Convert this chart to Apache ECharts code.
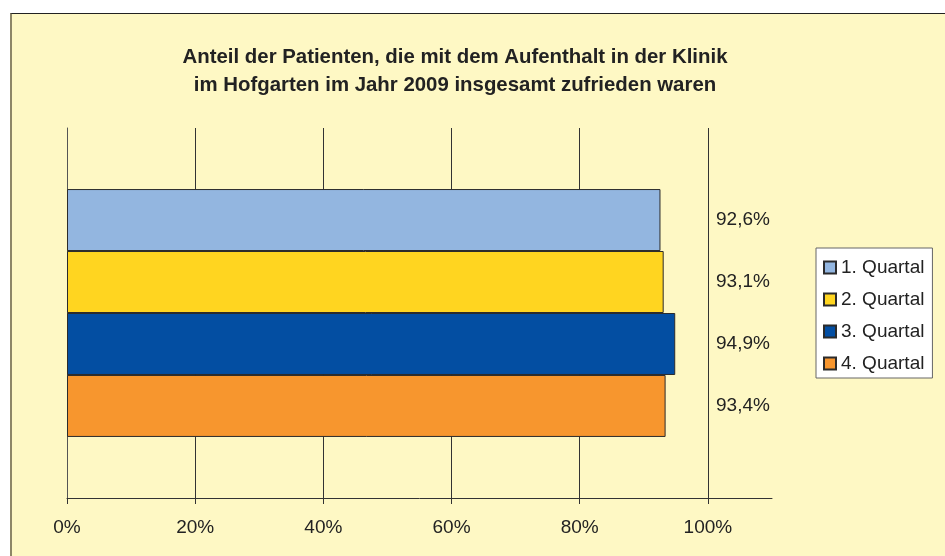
<!DOCTYPE html>
<html>
<head>
<meta charset="utf-8">
<script src="https://cdn.jsdelivr.net/npm/echarts@6/dist/echarts.min.js"></script>
<style>
  html, body { margin: 0; padding: 0; background: #ffffff; }
  .frame {
    position: absolute; left: 10px; top: 13px; width: 940px; height: 550px;
    background: #fef8c4;
    border-top: 1px solid #222;
    border-left: 2px solid #8d8668;
  }
  #main { position: absolute; left: 0; top: 0; width: 945px; height: 556px; }
</style>
</head>
<body>
<div class="frame"></div>
<div id="main"></div>
<script>
  var quartale = ['1. Quartal', '2. Quartal', '3. Quartal', '4. Quartal'];
  var werte = [92.6, 93.1, 94.9, 93.4];
  var farben = ['#93b6e0', '#ffd520', '#034ea2', '#f7962e'];
  var tickWerte = [0, 20, 40, 60, 80, 100];

  var chart = echarts.init(document.getElementById('main'));

  var series = [];
  for (var i = 0; i < quartale.length; i++) {
    series.push({
      name: quartale[i],
      type: 'bar',
      data: [werte[i]],
      barGap: '0%',
      barCategoryGap: '33%',
      itemStyle: { color: farben[i], borderColor: '#2b2b2b', borderWidth: 1 },
      label: {
        show: true,
        position: 'insideLeft',
        distance: 0,
        offset: [649, 0],
        fontFamily: 'Liberation Sans',
        fontSize: 19,
        color: '#222',
        formatter: function (p) { return String(p.value).replace('.', ',') + '%'; }
      }
    });
  }

  chart.setOption({
    backgroundColor: 'transparent',
    animation: false,
    title: {
      text: 'Anteil der Patienten, die mit dem Aufenthalt in der Klinik\nim Hofgarten im Jahr 2009 insgesamt zufrieden waren',
      left: 450,
      top: 38,
      textAlign: 'center',
      textStyle: {
        fontFamily: 'Liberation Sans',
        fontSize: 20.4,
        fontWeight: 'bold',
        lineHeight: 28,
        color: '#222'
      }
    },
    legend: {
      orient: 'vertical',
      left: 816,
      top: 248,
      padding: [10, 8, 5, 7],
      itemWidth: 12,
      itemHeight: 12,
      itemGap: 13,
      itemTextGap: 5,
      icon: 'rect',
      backgroundColor: '#ffffff',
      borderColor: '#666',
      borderWidth: 1,
      data: quartale,
      textStyle: { fontFamily: 'Liberation Sans', fontSize: 19, lineHeight: 18, color: '#222' }
    },
    grid: { left: 67, right: 173, top: 128, bottom: 58 },
    xAxis: {
      type: 'value',
      min: 0,
      max: 110,
      interval: 20,
      axisLine: { show: true, lineStyle: { color: '#333', width: 1 } },
      axisTick: { show: true, length: 6, customValues: tickWerte, lineStyle: { color: '#333' } },
      axisLabel: {
        customValues: tickWerte,
        margin: 20,
        formatter: '{value}%',
        fontFamily: 'Liberation Sans',
        fontSize: 19,
        color: '#222'
      },
      splitLine: { show: true, lineStyle: { color: '#333', width: 1 } }
    },
    yAxis: {
      type: 'category',
      inverse: true,
      data: [''],
      axisLine: { show: true, lineStyle: { color: '#555', width: 1 } },
      axisTick: { show: false },
      axisLabel: { show: false }
    },
    series: series
  });
</script>
</body>
</html>
